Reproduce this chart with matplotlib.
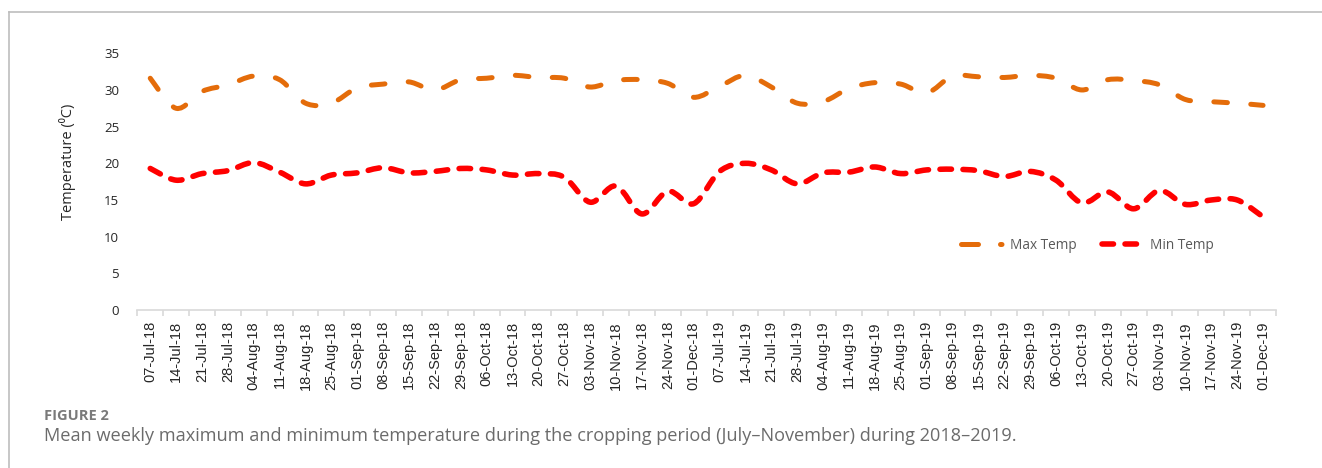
import numpy as np
import matplotlib
matplotlib.use("Agg")
import matplotlib.pyplot as plt
from matplotlib.path import Path
from matplotlib.patches import PathPatch
from matplotlib.lines import Line2D

dates = ["07-Jul-18", "14-Jul-18", "21-Jul-18", "28-Jul-18", "04-Aug-18", "11-Aug-18",
         "18-Aug-18", "25-Aug-18", "01-Sep-18", "08-Sep-18", "15-Sep-18", "22-Sep-18",
         "29-Sep-18", "06-Oct-18", "13-Oct-18", "20-Oct-18", "27-Oct-18", "03-Nov-18",
         "10-Nov-18", "17-Nov-18", "24-Nov-18", "01-Dec-18",
         "07-Jul-19", "14-Jul-19", "21-Jul-19", "28-Jul-19", "04-Aug-19", "11-Aug-19",
         "18-Aug-19", "25-Aug-19", "01-Sep-19", "08-Sep-19", "15-Sep-19", "22-Sep-19",
         "29-Sep-19", "06-Oct-19", "13-Oct-19", "20-Oct-19", "27-Oct-19", "03-Nov-19",
         "10-Nov-19", "17-Nov-19", "24-Nov-19", "01-Dec-19"]

max_temp = [31.6, 27.5, 29.8, 30.7, 31.9, 31.4, 28.2, 28.2, 30.3, 30.8, 31.1, 30.0,
            31.4, 31.6, 32.0, 31.7, 31.6, 30.4, 31.3, 31.4, 30.9, 29.0,
            30.5, 32.0, 30.4, 28.2, 28.4, 30.2, 31.0, 30.8, 29.6, 31.9, 31.8, 31.7,
            32.0, 31.6, 30.0, 31.4, 31.3, 30.7, 28.7, 28.4, 28.2, 27.9]

min_temp = [19.3, 17.7, 18.6, 19.0, 20.1, 18.8, 17.2, 18.4, 18.7, 19.4, 18.7, 18.9,
            19.3, 19.1, 18.4, 18.6, 18.1, 14.7, 16.9, 13.1, 16.2, 14.5,
            18.9, 20.0, 19.1, 17.2, 18.7, 18.8, 19.5, 18.6, 19.1, 19.2, 19.0, 18.2,
            18.9, 17.7, 14.6, 16.1, 13.8, 16.3, 14.4, 15.0, 15.0, 12.7]

y_ticks = [0, 5, 10, 15, 20, 25, 30, 35]
series_names = ["Max Temp", "Min Temp"]

MAX_C = "#E46C0A"
MIN_C = "#FF0000"
W, H = 1322, 468

fig = plt.figure(figsize=(W / 100, H / 100), dpi=100)
ax = fig.add_axes([137.3 / W, 1 - 310 / H, (1276 - 137.3) / W, (310 - 53.3) / H])


def smooth_path(xs, ys):
    xs = np.asarray(xs, float)
    ys = np.asarray(ys, float)
    pts = np.column_stack([xs, ys])
    n = len(pts)
    verts = [pts[0]]
    codes = [Path.MOVETO]
    for i in range(n - 1):
        p0 = pts[i - 1] if i > 0 else pts[i]
        p1 = pts[i]
        p2 = pts[i + 1]
        p3 = pts[i + 2] if i + 2 < n else pts[i + 1]
        c1 = p1 + (p2 - p0) / 6.0
        c2 = p2 - (p3 - p1) / 6.0
        verts += [c1, c2, p2]
        codes += [Path.CURVE4] * 3
    return Path(verts, codes)


x = np.arange(len(dates))
lw_max = 3.6
lw_min = 4.0
dash_max = (2.72, 4.68)
dash_min = (2.07, 2.07)

pmax = PathPatch(smooth_path(x, max_temp), facecolor="none", edgecolor=MAX_C,
                 lw=lw_max, linestyle=(0, dash_max), capstyle="round", joinstyle="round",
                 label=series_names[0])
pmin = PathPatch(smooth_path(x, min_temp), facecolor="none", edgecolor=MIN_C,
                 lw=lw_min, linestyle=(0, dash_min), capstyle="round", joinstyle="round",
                 label=series_names[1])
ax.add_patch(pmax)
ax.add_patch(pmin)

ax.set_xlim(-0.5, len(dates) - 0.5)
ax.set_ylim(0, 35)

for s in ["top", "right", "left"]:
    ax.spines[s].set_visible(False)
ax.spines["bottom"].set_color("#d9d9d9")
ax.spines["bottom"].set_linewidth(1.2)

ax.set_xticks(x)
ax.set_xticklabels(dates, rotation=90, fontsize=10.5, family="Liberation Sans",
                   color="#262626")
ax.set_xticks(np.arange(len(dates) + 1) - 0.5, minor=True)
ax.tick_params(axis="x", which="major", length=0, pad=8)
ax.tick_params(axis="x", which="minor", length=4, color="#d9d9d9", width=1.2)

ax.set_yticks(y_ticks)
ax.set_yticklabels([str(v) for v in y_ticks], fontsize=9.5, family="Open Sans",
                   color="#262626")
ax.tick_params(axis="y", length=0, pad=13)

ax.set_ylabel("Temperature (\u2070C)", fontsize=10.5, family=["Open Sans", "DejaVu Sans"],
              color="#262626")
ax.yaxis.set_label_coords(-0.054, 0.576)

h_max = Line2D([], [], color=MAX_C, lw=lw_max, dash_capstyle="round",
               dashes=(3.4, 4.4, 0.3, 30))
h_min = Line2D([], [], color=MIN_C, lw=lw_min, dash_capstyle="round",
               dashes=(2.07, 2.07, 2.07, 30))
leg = ax.legend([h_max, h_min], series_names, loc="center left",
                bbox_to_anchor=(0.7177, 0.2505), frameon=False, borderpad=0,
                handlelength=3.0, handletextpad=0.55, columnspacing=1.9, ncol=2,
                prop={"family": "Open Sans", "size": 9.8})
for t in leg.get_texts():
    t.set_color("#595959")

# frame lines of the figure panel
fig.add_artist(Line2D([9.3 / W, 9.3 / W], [0, 1 - 12 / H], transform=fig.transFigure,
                      color="#bdbdbd", lw=1.2))
fig.add_artist(Line2D([9.3 / W, 1], [1 - 12 / H, 1 - 12 / H], transform=fig.transFigure,
                      color="#bdbdbd", lw=1.2))

fig.text(44 / W, 1 - 420 / H, "FIGURE 2", fontsize=10.5, family="Open Sans",
         weight="bold", color="#7a7a7a", va="baseline", ha="left")
fig.text(44 / W, 1 - 441 / H,
         "Mean weekly maximum and minimum temperature during the cropping period "
         "(July\u2013November) during 2018\u20132019.",
         fontsize=13.1, family="Open Sans", color="#6b6b6b", va="baseline", ha="left")

fig.savefig("out.png", dpi=100)
